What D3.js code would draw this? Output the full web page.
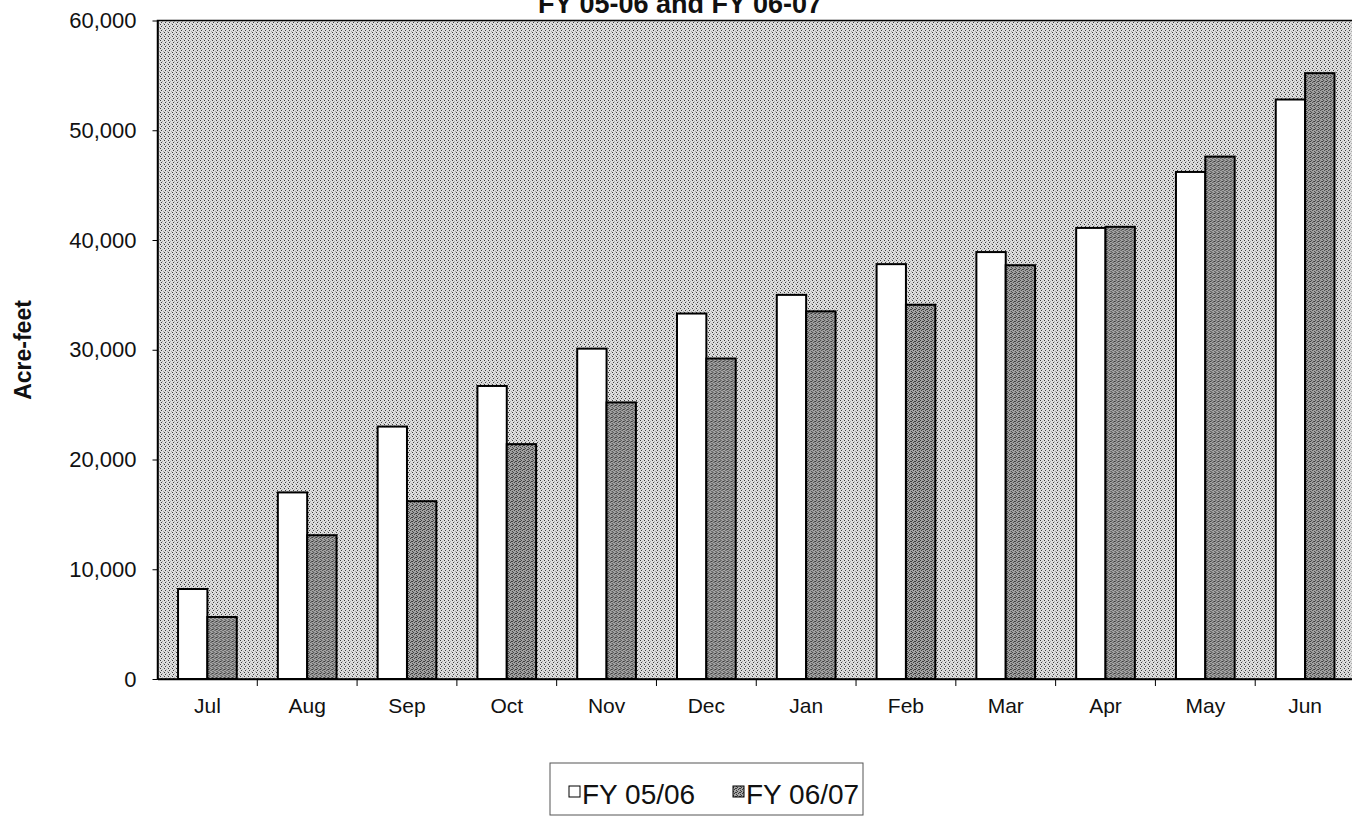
<!DOCTYPE html>
<html>
<head>
<meta charset="utf-8">
<script src="https://cdn.jsdelivr.net/npm/d3@7"></script>
<style>
  body { margin: 0; background: #fff; }
  svg { display: block; font-family: "Liberation Sans", Arial, sans-serif; }
</style>
</head>
<body>
<div class="chart"></div>
<script>
var months = ["Jul", "Aug", "Sep", "Oct", "Nov", "Dec", "Jan", "Feb", "Mar", "Apr", "May", "Jun"];
var seriesNames = ["FY 05/06", "FY 06/07"];
var fy0506 = [8200, 17000, 23000, 26700, 30100, 33300, 35000, 37800, 38900, 41100, 46200, 52800];
var fy0607 = [5650, 13100, 16200, 21400, 25200, 29200, 33500, 34100, 37700, 41200, 47600, 55200];
var yTicks = [0, 10000, 20000, 30000, 40000, 50000, 60000];
var titleText = "FY 05-06 and FY 06-07";
var yTitle = "Acre-feet";

var baseWidth = 1352;
var baseHeight = 818;
var plot = { left: 157.5, right: 1355, top: 20.5, bottom: 679 };

var rows = months.map(function(m, i) {
  return { month: m, values: [fy0506[i], fy0607[i]] };
});

var svg = d3.select(".chart")
  .append("svg")
  .attr("width", baseWidth)
  .attr("height", baseHeight);

var defs = svg.append("defs");

// stippled plot background
var bg = defs.append("pattern")
  .attr("id", "bgDots")
  .attr("width", 4).attr("height", 4)
  .attr("patternUnits", "userSpaceOnUse");
bg.append("rect").attr("width", 4).attr("height", 4).attr("fill", "#dedede");
[[0, 0], [2, 1], [1, 2], [3, 3]].forEach(function(p, i) {
  bg.append("rect").attr("x", p[0]).attr("y", p[1]).attr("width", 1).attr("height", 1)
    .attr("fill", i % 2 ? "#aaaaaa" : "#3c3c3c");
});

// dark bar texture
var dk = defs.append("pattern")
  .attr("id", "darkDots")
  .attr("width", 4).attr("height", 4)
  .attr("patternUnits", "userSpaceOnUse");
dk.append("rect").attr("width", 4).attr("height", 4).attr("fill", "#a4a4a4");
[[0, 0], [2, 1], [1, 2], [3, 3], [3, 1]].forEach(function(p) {
  dk.append("rect").attr("x", p[0]).attr("y", p[1]).attr("width", 1).attr("height", 1)
    .attr("fill", "#3a3a3a");
});

var fills = ["#ffffff", "url(#darkDots)"];

var x0 = d3.scaleBand()
  .domain(months)
  .range([plot.left, plot.right])
  .padding(0);

var x1 = d3.scaleBand()
  .domain([0, 1])
  .range([0, x0.bandwidth()])
  .paddingInner(0)
  .paddingOuter(0.7);

var y = d3.scaleLinear()
  .domain([0, 60000])
  .range([plot.bottom, plot.top]);

svg.append("rect")
  .attr("x", plot.left)
  .attr("y", plot.top)
  .attr("width", plot.right - plot.left)
  .attr("height", plot.bottom - plot.top)
  .attr("fill", "url(#bgDots)")
  .attr("stroke", "#000")
  .attr("stroke-width", 1.5);

svg.append("g")
  .selectAll("g")
  .data(rows)
  .enter()
  .append("g")
  .attr("transform", function(d) { return "translate(" + x0(d.month) + ",0)"; })
  .selectAll("rect")
  .data(function(d) { return d.values; })
  .enter()
  .append("rect")
  .attr("x", function(d, i) { return x1(i); })
  .attr("y", function(d) { return y(d); })
  .attr("width", x1.bandwidth())
  .attr("height", function(d) { return plot.bottom - y(d); })
  .attr("fill", function(d, i) { return fills[i]; })
  .attr("stroke", "#000")
  .attr("stroke-width", 2);

var yAxis = d3.axisLeft(y)
  .tickValues(yTicks)
  .tickFormat(d3.format(","))
  .tickSizeInner(5)
  .tickSizeOuter(0)
  .tickPadding(16);

var gy = svg.append("g")
  .attr("transform", "translate(" + plot.left + ",0)")
  .call(yAxis);
gy.attr("font-size", 22).attr("font-family", "'Liberation Sans', Arial, sans-serif");
gy.select(".domain").attr("stroke", "#000").attr("stroke-width", 1.5);
gy.selectAll("text")
  .style("font-size", "22px")
  .attr("fill", "#111");

var xAxis = d3.axisBottom(x0)
  .tickSize(0)
  .tickPadding(19);

var gx = svg.append("g")
  .attr("transform", "translate(0," + plot.bottom + ")")
  .call(xAxis);
gx.attr("font-size", 21).attr("font-family", "'Liberation Sans', Arial, sans-serif");
gx.select(".domain").attr("stroke", "#000").attr("stroke-width", 1.5);
gx.selectAll("text")
  .style("font-size", "21px")
  .attr("fill", "#111");

// tick marks sit between categories
gx.selectAll(".sep")
  .data(months.slice(1))
  .enter()
  .append("line")
  .attr("class", "sep")
  .attr("x1", function(d) { return x0(d); })
  .attr("x2", function(d) { return x0(d); })
  .attr("y1", 0)
  .attr("y2", 7)
  .attr("stroke", "#000");

svg.append("text")
  .attr("x", 680)
  .attr("y", 13)
  .attr("text-anchor", "middle")
  .attr("font-size", 27)
  .attr("font-weight", "bold")
  .attr("fill", "#111")
  .text(titleText);

svg.append("text")
  .attr("transform", "translate(31," + 350 + ") rotate(-90)")
  .attr("text-anchor", "middle")
  .attr("font-size", 23)
  .attr("font-weight", "bold")
  .attr("fill", "#111")
  .text(yTitle);

// legend
var legend = svg.append("g").attr("transform", "translate(550,763)");
legend.append("rect")
  .attr("width", 313)
  .attr("height", 52)
  .attr("fill", "#fff")
  .attr("stroke", "#555")
  .attr("stroke-width", 1);

var item = legend.selectAll(".item")
  .data(seriesNames)
  .enter()
  .append("g")
  .attr("class", "item")
  .attr("transform", function(d, i) { return "translate(" + (19 + i * 164) + ",0)"; });

item.append("rect")
  .attr("y", 23)
  .attr("width", 11)
  .attr("height", 11)
  .attr("fill", function(d, i) { return fills[i]; })
  .attr("stroke", "#000")
  .attr("stroke-width", 1);

item.append("text")
  .attr("x", 13)
  .attr("y", 41)
  .attr("font-size", 28)
  .attr("fill", "#111")
  .text(function(d) { return d; });
</script>
</body>
</html>
